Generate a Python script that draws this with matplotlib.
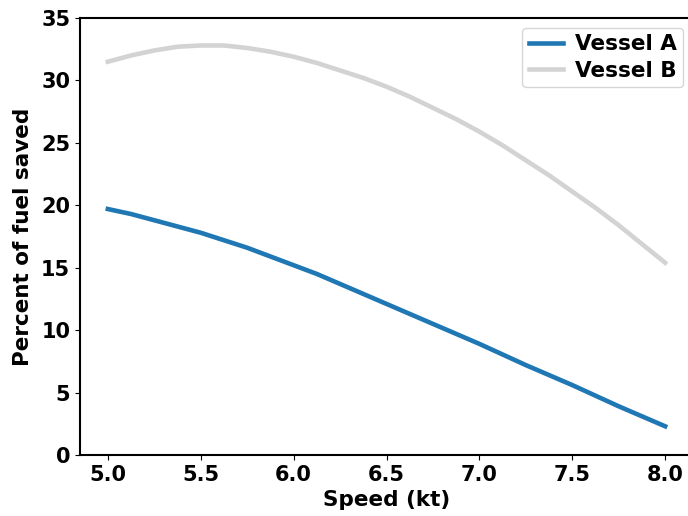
import matplotlib.pyplot as plt

speed = [5.0, 5.125, 5.25, 5.375, 5.5, 5.625, 5.75, 5.875, 6.0, 6.125, 6.25, 6.375, 6.5,
         6.625, 6.75, 6.875, 7.0, 7.125, 7.25, 7.375, 7.5, 7.625, 7.75, 7.875, 8.0]
vessel_a = [19.7, 19.3, 18.8, 18.3, 17.8, 17.2, 16.6, 15.9, 15.2, 14.5, 13.7, 12.9, 12.1,
            11.3, 10.5, 9.7, 8.9, 8.05, 7.2, 6.4, 5.6, 4.75, 3.9, 3.1, 2.3]
vessel_b = [31.5, 32.0, 32.4, 32.7, 32.8, 32.8, 32.6, 32.3, 31.9, 31.4, 30.8, 30.2, 29.5,
            28.7, 27.8, 26.9, 25.9, 24.8, 23.6, 22.4, 21.1, 19.8, 18.4, 16.9, 15.4]

plt.rcParams['font.weight'] = 'bold'
plt.rcParams['axes.labelweight'] = 'bold'
plt.rcParams['font.size'] = 15

fig = plt.figure(figsize=(6.88, 5.16), dpi=100)
# axes runs past the right edge, like the cropped original
ax = fig.add_axes([80 / 688, 61 / 516, 613 / 688, 437 / 516])

ax.plot(speed, vessel_a, color='#1f77b4', linewidth=3.3, label='Vessel A')
ax.plot(speed, vessel_b, color='lightgrey', linewidth=3.3, label='Vessel B')

ax.set_xlim(4.85, 8.15)
ax.set_ylim(0, 35)
ax.set_xticks([5.0, 5.5, 6.0, 6.5, 7.0, 7.5, 8.0])
ax.set_xlabel('Speed (kt)', fontsize=15.5)
ax.set_ylabel('Percent of fuel saved', fontsize=15.5, labelpad=6)
for s in ax.spines.values():
    s.set_linewidth(1.5)

ax.legend(loc='upper right', prop={'weight': 'bold', 'size': 15.5},
          handlelength=1.6, handletextpad=0.55, labelspacing=0.3,
          borderpad=0.3, borderaxespad=0.45)

fig.savefig('out.png', dpi=100)
